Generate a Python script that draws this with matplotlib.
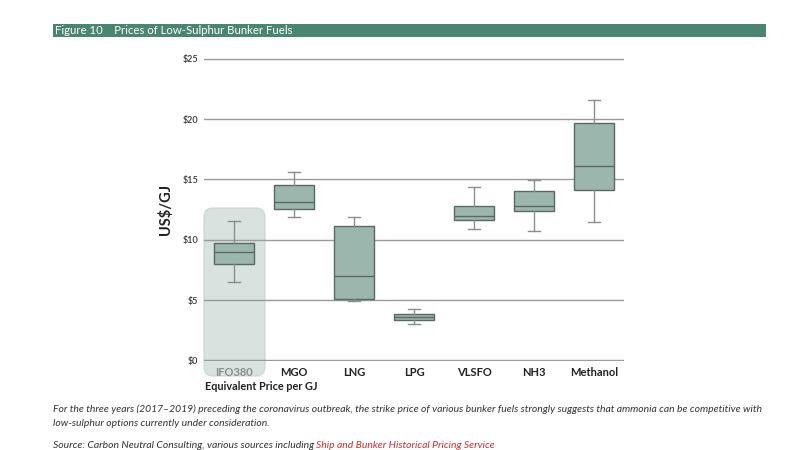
import matplotlib
matplotlib.use("Agg")
import matplotlib.pyplot as plt
from matplotlib.patches import FancyBboxPatch, Rectangle
from matplotlib.transforms import IdentityTransform

fuels = ["IFO380", "MGO", "LNG", "LPG", "VLSFO", "NH3", "Methanol"]
whisker_low = [6.5, 11.9, 4.9, 3.05, 10.9, 10.75, 11.45]
q1 = [8.0, 12.55, 5.05, 3.35, 11.65, 12.4, 14.15]
median = [8.95, 13.1, 7.0, 3.6, 11.95, 12.8, 16.15]
q3 = [9.7, 14.5, 11.15, 3.85, 12.8, 14.0, 19.65]
whisker_high = [11.55, 15.6, 11.9, 4.3, 14.35, 14.95, 21.6]
yticks = [0, 5, 10, 15, 20, 25]

BOX = "#9bb6ac"
EDGE = "#5a6863"
WH = "#8a8f8d"

fig = plt.figure(figsize=(8, 4.5), dpi=100)
ax = fig.add_axes([0.255, 0.1978, 0.525, 0.673])
ax.set_facecolor("none")

# highlight behind IFO380
hl = FancyBboxPatch((204, 450 - 376), 61, 376 - 208,
                    boxstyle="round,pad=0,rounding_size=9",
                    transform=IdentityTransform(), facecolor="#d8e2de",
                    edgecolor="#cbd6d2", lw=0.8, zorder=-1)
fig.add_artist(hl)

stats = []
for i, f in enumerate(fuels):
    stats.append(dict(label=f, whislo=whisker_low[i], q1=q1[i], med=median[i],
                      q3=q3[i], whishi=whisker_high[i], fliers=[]))

ax.bxp(stats, positions=range(len(fuels)), widths=0.66, patch_artist=True,
       showfliers=False,
       boxprops=dict(facecolor=BOX, edgecolor=EDGE, linewidth=1.0),
       medianprops=dict(color=EDGE, linewidth=1.0),
       whiskerprops=dict(color=WH, linewidth=1.0),
       capprops=dict(color=WH, linewidth=1.0),
       capwidths=0.2, zorder=3)

ax.set_xlim(-0.5, 6.5)
ax.set_ylim(-0.05, 25.05)
ax.set_yticks(yticks)
ax.set_yticklabels([f"${v}" for v in yticks], fontsize=6.5, color="#333333",
                   family="Lato", fontweight="semibold")
ax.yaxis.grid(True, color="#9a9a9a", linewidth=1.0, zorder=0)
ax.set_axisbelow(True)
for s in ax.spines.values():
    s.set_visible(False)
ax.tick_params(axis="both", length=0)
ax.tick_params(axis="y", pad=4)
ax.tick_params(axis="x", pad=4)
ax.set_xticks(range(len(fuels)))
ax.set_xticklabels(fuels, fontsize=8, fontweight="bold", family="Lato",
                   color="#222222")
ax.get_xticklabels()[0].set_color("#8a8f8d")

ax.set_ylabel("US$/GJ", fontsize=10.5, fontweight="bold", family="Lato",
              color="#222222", labelpad=7)

fig.text(205 / 800, 1 - 387 / 450, "Equivalent Price per GJ", fontsize=7.8,
         fontweight="bold", family="Lato", color="#222222", va="center",
         ha="left")

# title bar
fig.add_artist(Rectangle((53 / 800, 1 - 37 / 450), (766 - 53) / 800, 13 / 450,
                         transform=fig.transFigure, facecolor="#4a8571",
                         edgecolor="none", zorder=0))
fig.text(55 / 800, 1 - 30.5 / 450, "Figure 10    Prices of Low-Sulphur Bunker Fuels",
         fontsize=8.2, color="white", va="center", ha="left", family="Lato")

cap_font = ["Lato", "DejaVu Sans"]
c1 = fig.text(53 / 800, 1 - 409 / 450,
              "For the three years (2017\u20132019) preceding the coronavirus outbreak, the strike price of various bunker fuels strongly suggests that ammonia can be competitive with",
              fontsize=7, style="italic", family=cap_font, color="#333333",
              va="center", ha="left")
c2 = fig.text(53 / 800, 1 - 423 / 450,
              "low-sulphur options currently under consideration.",
              fontsize=7, style="italic", family=cap_font, color="#333333",
              va="center", ha="left")
t1 = fig.text(53 / 800, 1 - 446 / 450,
              "Source: Carbon Neutral Consulting, various sources including ",
              fontsize=7, style="italic", family=cap_font, color="#333333",
              va="center", ha="left")
t2 = fig.text(0, 0, "Ship and Bunker Historical Pricing Service", fontsize=7,
              style="italic", family=cap_font, color="#d62b2b", va="center",
              ha="left", transform=IdentityTransform())

# fit caption width to the reference line length
fig.canvas.draw()
w = c1.get_window_extent().width
fs = 7 * 710 / w
for t in (c1, c2, t1, t2):
    t.set_fontsize(fs)
fig.canvas.draw()
bb = t1.get_window_extent()
t2.set_position((bb.x1, (bb.y0 + bb.y1) / 2))

fig.savefig("out.png", dpi=100)
